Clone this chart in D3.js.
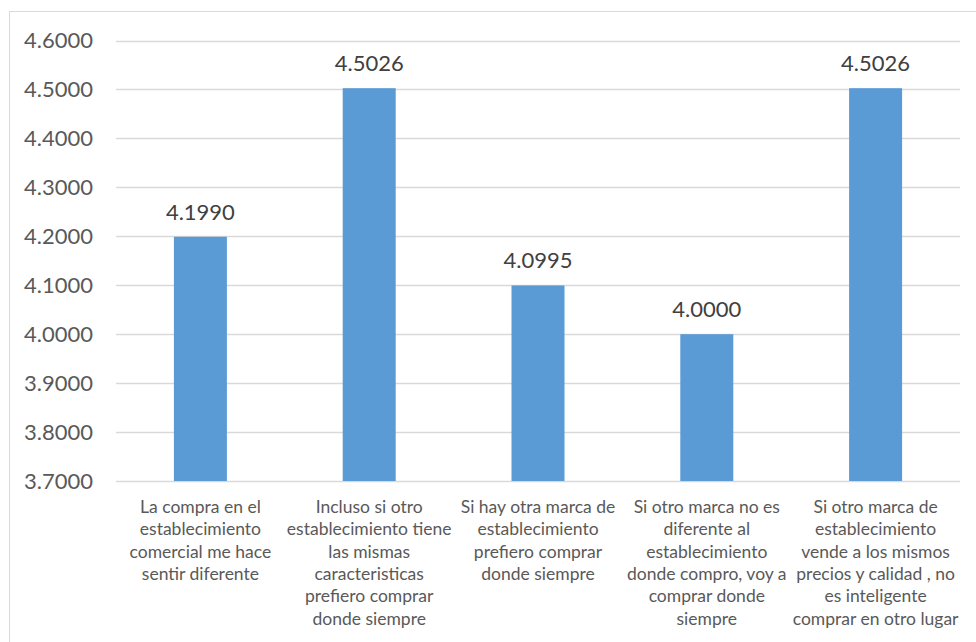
<!DOCTYPE html>
<html>
<head>
<meta charset="utf-8">
<script src="https://cdn.jsdelivr.net/npm/d3@7"></script>
<style>
  body { margin: 0; background: #fff; }
  svg { display: block; font-family: Lato, "Open Sans", sans-serif; }
</style>
</head>
<body>
<svg id="chart" width="976" height="642"></svg>
<script>
// data
var categories = ['c1', 'c2', 'c3', 'c4', 'c5'];
var values = [4.1990, 4.5026, 4.0995, 4.0000, 4.5026];
var labelLines = [
  ['La compra en el', 'establecimiento', 'comercial me hace', 'sentir diferente'],
  ['Incluso si otro', 'establecimiento tiene', 'las mismas', 'caracteristicas', 'prefiero comprar', 'donde siempre'],
  ['Si hay otra marca de', 'establecimiento', 'prefiero comprar', 'donde siempre'],
  ['Si otro marca no es', 'diferente al', 'establecimiento', 'donde compro, voy a', 'comprar donde', 'siempre'],
  ['Si otro marca de', 'establecimiento', 'vende a los mismos', 'precios y calidad , no', 'es inteligente', 'comprar en otro lugar']
];
var yTicks = [3.7, 3.8, 3.9, 4.0, 4.1, 4.2, 4.3, 4.4, 4.5, 4.6];

(function draw() {
  var svg = d3.select('#chart');

  // outer chart border (cut off at right and bottom like the original)
  svg.append('rect')
    .attr('x', 9.5).attr('y', 11.5)
    .attr('width', 1000).attr('height', 700)
    .attr('fill', 'none')
    .attr('stroke', '#d9d9d9');

  var plotLeft = 116, plotRight = 960, plotTop = 40.5, plotBottom = 481;

  var x = d3.scaleBand()
    .domain(categories)
    .range([plotLeft, plotRight])
    .paddingInner(0.686)
    .paddingOuter(0.343);

  var y = d3.scaleLinear()
    .domain([3.7, 4.6])
    .range([plotBottom, plotTop]);

  //************************ gridlines + y labels *************************/
  var grid = svg.append('g');
  grid.selectAll('line')
    .data(yTicks)
    .enter().append('line')
    .attr('x1', plotLeft).attr('x2', plotRight)
    .attr('y1', d => Math.round(y(d)) + 0.5)
    .attr('y2', d => Math.round(y(d)) + 0.5)
    .attr('stroke', '#d9d9d9')
    .attr('stroke-width', 1.5);

  grid.selectAll('text')
    .data(yTicks)
    .enter().append('text')
    .attr('x', 93)
    .attr('y', d => y(d))
    .attr('dy', '0.35em')
    .attr('text-anchor', 'end')
    .attr('fill', '#595959')
    .style('font-size', '22px')
    .text(d => d3.format('.4f')(d));

  //************************ bars *************************/
  svg.append('g').selectAll('rect')
    .data(values)
    .enter().append('rect')
    .attr('x', (d, i) => x(categories[i]))
    .attr('width', x.bandwidth())
    .attr('y', d => y(d))
    .attr('height', d => y(3.7) - y(d))
    .attr('fill', '#5b9bd5');

  //************************ data labels *************************/
  svg.append('g').selectAll('text')
    .data(values)
    .enter().append('text')
    .attr('x', (d, i) => x(categories[i]) + x.bandwidth() / 2)
    .attr('y', d => y(d) - 17)
    .attr('text-anchor', 'middle')
    .attr('fill', '#404040')
    .style('font-size', '22px')
    .text(d => d3.format('.4f')(d));

  //************************ category labels *************************/
  var cats = svg.append('g').selectAll('text')
    .data(labelLines)
    .enter().append('text')
    .attr('text-anchor', 'middle')
    .attr('fill', '#595959')
    .style('font-size', '17.5px');

  cats.each(function(lines, i) {
    var cx = x(categories[i]) + x.bandwidth() / 2;
    d3.select(this).selectAll('tspan')
      .data(lines)
      .enter().append('tspan')
      .attr('x', cx)
      .attr('y', (d, j) => 513 + j * 22.3)
      .text(d => d);
  });
})();
</script>
</body>
</html>
